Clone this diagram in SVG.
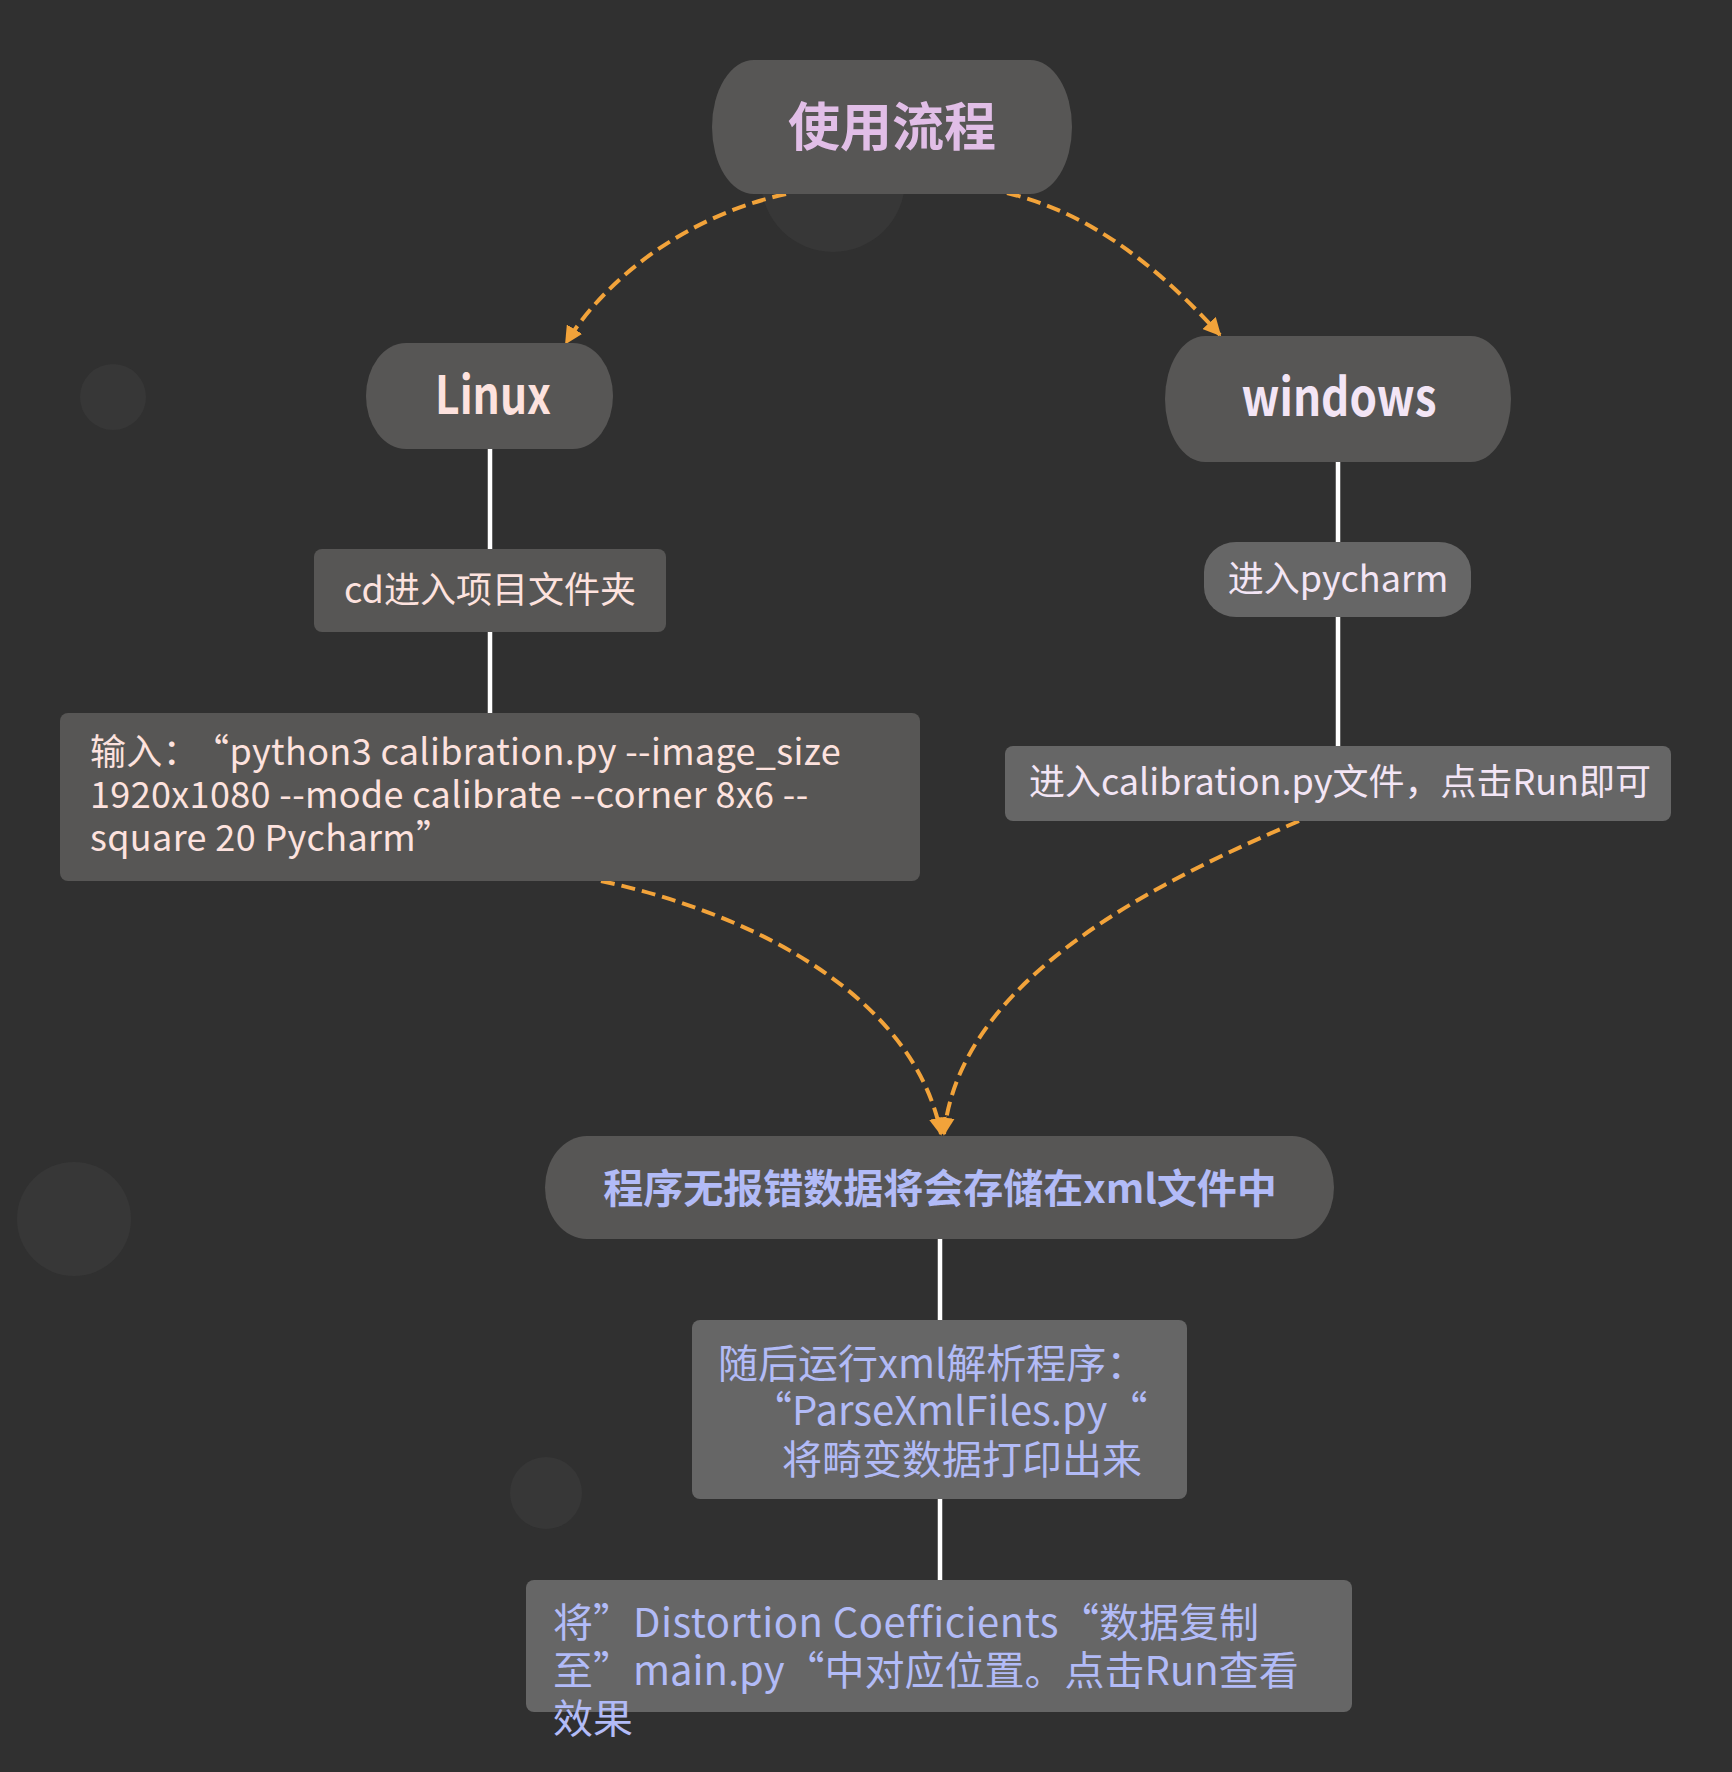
<svg xmlns="http://www.w3.org/2000/svg" width="1732" height="1772" viewBox="0 0 1732 1772">
<defs>
<style>
.bg{fill:#303030}
.dot{fill:#373737}
.pill{fill:#575655}
.box{fill:#575655}
.box2{fill:#666666}
.t{font-family:"Noto Sans CJK SC","Source Han Sans SC","Noto Sans",sans-serif}
.b{font-weight:bold}
.dash{fill:none;stroke:#f2a33a;stroke-width:4;stroke-dasharray:14 7;marker-end:url(#ah)}
.solid{fill:none;stroke:#ffffff;stroke-width:4.5}
</style>
<marker id="ah" viewBox="0 0 10 10" refX="9" refY="5" markerWidth="18" markerHeight="18" markerUnits="userSpaceOnUse" orient="auto">
<path d="M0,0 L10,5 L0,10 z" fill="#f2a33a"/>
</marker>
</defs>
<rect class="bg" x="0" y="0" width="1732" height="1772"/>
<circle class="dot" cx="833" cy="180" r="72"/>
<circle class="dot" cx="113" cy="397" r="33"/>
<circle class="dot" cx="74" cy="1219" r="57"/>
<circle class="dot" cx="546" cy="1493" r="36"/>

<g id="connectors">
<path class="solid" d="M490 449 V549 M490 632 V713"/>
<path class="solid" d="M1338 462 V542 M1338 617 V746"/>
<path class="solid" d="M940 1239 V1320 M940 1499 V1580"/>
<path class="dash" d="M786 194 C690 215 608 275 566 343"/>
<path class="dash" d="M1007 193 C1100 215 1170 280 1220 335"/>
<path class="dash" d="M601 881 C760 915 915 1000 941 1134"/>
<path class="dash" d="M1299 821 C1150 885 960 980 944 1134"/>
</g>

<g id="n-start">
<rect class="pill" x="712" y="60" width="360" height="134" rx="42" ry="67"/>
<text class="t b" x="892" y="146" font-size="52" fill="#e1bee7" text-anchor="middle">使用流程</text>
</g>
<g id="n-linux">
<rect class="pill" x="366" y="343" width="247" height="106" rx="40" ry="53" fill="#595857"/>
<text class="t b" x="493" y="414" font-size="52" fill="#fde2de" text-anchor="middle" textLength="116" lengthAdjust="spacingAndGlyphs">Linux</text>
</g>
<g id="n-windows">
<rect class="pill" x="1165" y="336" width="346" height="126" rx="40" ry="63"/>
<text class="t b" x="1339" y="416" font-size="52" fill="#f3e5f5" text-anchor="middle" textLength="195" lengthAdjust="spacingAndGlyphs">windows</text>
</g>
<g id="n-cd">
<rect class="box" x="314" y="549" width="352" height="83" rx="8"/>
<text class="t" x="490" y="603" font-size="36" fill="#fde2de" text-anchor="middle">cd进入项目文件夹</text>
</g>
<g id="n-input">
<rect class="box" x="60" y="713" width="860" height="168" rx="8"/>
<text class="t" font-size="36" fill="#fde2de" letter-spacing="0.35">
<tspan x="90" y="765">输入：<tspan dx="12">“python3 calibration.py --image_size</tspan></tspan>
<tspan x="90" y="808">1920x1080 --mode calibrate --corner 8x6 --</tspan>
<tspan x="90" y="851">square 20 Pycharm”</tspan>
</text>
</g>
<g id="n-pycharm">
<rect class="box2" x="1204" y="542" width="267" height="75" rx="32" ry="30"/>
<text class="t" x="1338" y="592" font-size="36" fill="#f3e5f5" text-anchor="middle">进入pycharm</text>
</g>
<g id="n-calib">
<rect class="box2" x="1005" y="746" width="666" height="75" rx="8"/>
<text class="t" x="1340" y="795" font-size="36" fill="#f3e5f5" text-anchor="middle">进入calibration.py文件，点击Run即可</text>
</g>
<g id="n-store">
<rect class="pill" x="545" y="1136" width="789" height="103" rx="42" ry="51.5"/>
<text class="t b" x="940" y="1203" font-size="40" fill="#b2bbf7" text-anchor="middle">程序无报错数据将会存储在xml文件中</text>
</g>
<g id="n-parse">
<rect class="box2" x="692" y="1320" width="495" height="179" rx="8"/>
<text class="t" font-size="40" fill="#b2bbf7">
<tspan x="718" y="1378">随后运行xml解析程序：</tspan>
<tspan x="752" y="1425">“ParseXmlFiles.py“</tspan>
<tspan x="782" y="1474">将畸变数据打印出来</tspan>
</text>
</g>
<g id="n-copy">
<rect class="box2" x="526" y="1580" width="826" height="132" rx="8"/>
<text class="t" font-size="40" fill="#b2bbf7">
<tspan x="553" y="1637">将”<tspan letter-spacing="0.5">Distortion Coefficients</tspan>“数据复制</tspan>
<tspan x="553" y="1685">至”main.py“中对应位置。点击Run查看</tspan>
<tspan x="553" y="1733">效果</tspan>
</text>
</g>
</svg>
